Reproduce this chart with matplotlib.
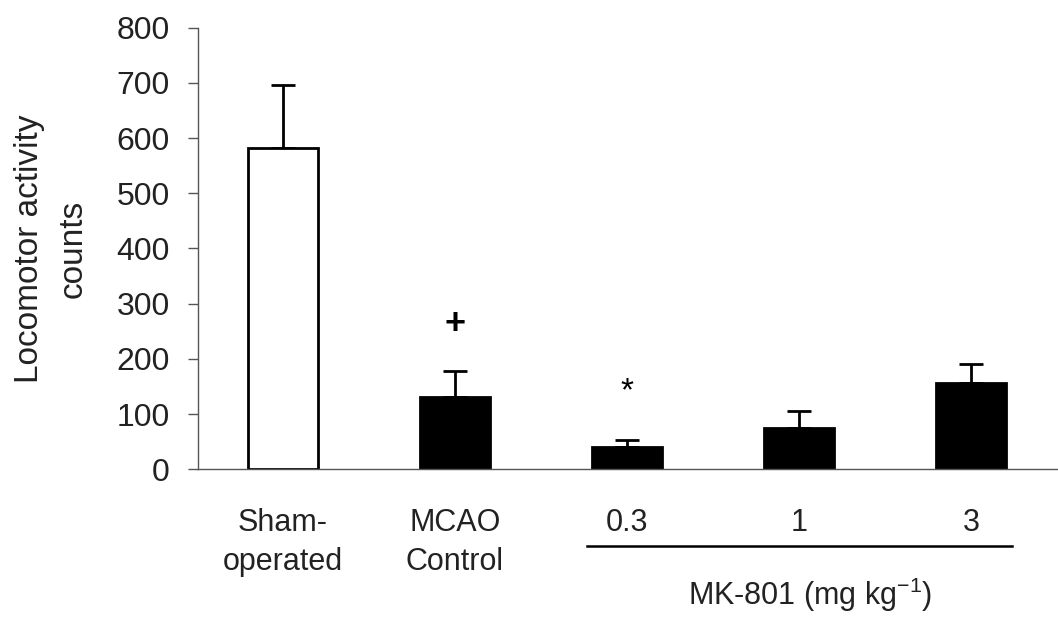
import matplotlib.pyplot as plt
import numpy as np

# Locomotor activity after MCAO, group means with upward SEM bars
groups = ["Sham-\noperated", "MCAO\nControl", "0.3", "1", "3"]
means = [582, 131, 41, 75, 157]
sems = [115, 47, 12, 30, 34]
fills = ["white", "black", "black", "black", "black"]
# significance markers: (group index, symbol, y position)
marks = [(1, "+", 263), (2, "*", 140)]

plt.rcParams["font.family"] = ["Liberation Sans", "DejaVu Sans"]
plt.rcParams["mathtext.default"] = "regular"

fig = plt.figure(figsize=(10.58, 6.17), dpi=100)
ax = fig.add_axes([0.1871, 0.2394, 0.8129, 0.7157])

x = np.arange(len(groups))
ax.bar(x, means, width=0.41, color=fills, edgecolor="black", linewidth=2.0, zorder=2)
ax.errorbar(x, means, yerr=[np.zeros(len(sems)), sems], fmt="none",
            ecolor="black", elinewidth=2.0, capsize=8.6, capthick=2.0, zorder=1)

for i, sym, y in marks:
    ax.text(x[i], y, sym, ha="center", va="center", fontsize=26 if sym == "+" else 24,
            fontweight="bold" if sym == "+" else "normal")

ax.set_xlim(-0.494, 4.506)
ax.set_ylim(0, 800)
ax.set_yticks(np.arange(0, 801, 100))
ax.tick_params(axis="y", direction="out", length=7.2, width=1, color="#555555",
               pad=13, labelsize=23, labelcolor="#222222")
ax.tick_params(axis="x", length=0, pad=28)
ax.set_xticks(x)
ax.set_xticklabels(groups, fontsize=22, linespacing=1.4, color="#222222")

for side in ["top", "right"]:
    ax.spines[side].set_visible(False)
for side in ["left", "bottom"]:
    ax.spines[side].set_color("#555555")
    ax.spines[side].set_linewidth(1)

ax.set_ylabel("Locomotor activity\ncounts", fontsize=24, linespacing=1.55,
              color="#222222")
ax.yaxis.set_label_coords(-0.127, 0.5)

# bracket under the MK-801 dose groups
trans = ax.get_xaxis_transform()
ax.plot([1.767, 4.238], [-0.174, -0.174], color="black", linewidth=1.8,
        transform=trans, clip_on=False)
ax.text(3.064, -0.307, "MK-801 (mg kg$^{-1}$)", transform=trans, ha="center",
        va="baseline", fontsize=22, color="#222222")

fig.savefig("out.png", dpi=100)
